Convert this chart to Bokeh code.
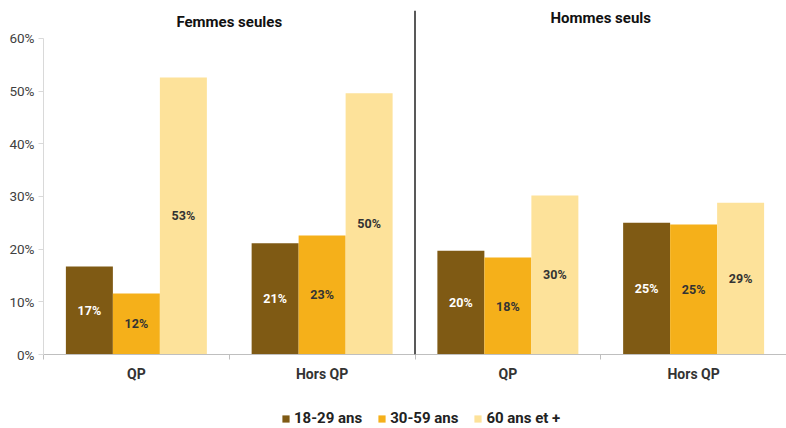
from bokeh.plotting import figure
from bokeh.layouts import column
from bokeh.models import (ColumnDataSource, Range1d, LinearAxis, FixedTicker,
                          Span, Label, Legend, LegendItem)
from bokeh.transform import dodge
from bokeh.core.properties import value
from bokeh.embed import file_html
from bokeh.resources import INLINE

groups = ["F_QP", "F_HQP", "H_QP", "H_HQP"]
group_labels = ["QP", "Hors QP", "QP", "Hors QP"]
panel_titles = ["Femmes seules", "Hommes seuls"]
ages = ["18-29 ans", "30-59 ans", "60 ans et +"]
age_18_29 = [16.7, 21.1, 19.7, 25.0]
age_30_59 = [11.6, 22.6, 18.4, 24.7]
age_60p = [52.6, 49.6, 30.2, 28.8]
y_ticks = [0, 10, 20, 30, 40, 50, 60]

colors = ["#7F5A14", "#F5B01A", "#FDE29A"]
label_colors = ["#FFFFFF", "#333333", "#333333"]
series = [age_18_29, age_30_59, age_60p]
FONT = "Roboto"

n = len(groups)
p = figure(frame_width=743, frame_height=344, x_range=Range1d(0, n),
           y_range=Range1d(0, 65.3), output_backend="svg", toolbar_location=None,
           x_axis_location=None, min_border_left=43, min_border_right=0,
           min_border_top=10, min_border_bottom=0)
p.outline_line_color = None
p.grid.grid_line_color = None
p.background_fill_color = "white"

centers = [i + 0.5 for i in range(n)]
src_data = {"x": centers}
for i, s in enumerate(series):
    src_data[f"v{i}"] = s
    src_data[f"m{i}"] = [v / 2 for v in s]
    src_data[f"t{i}"] = [f"{round(v):d}%" for v in s]
src = ColumnDataSource(src_data)

bw = 0.253
offsets = [-bw, 0, bw]
for i in range(3):
    p.vbar(x=dodge("x", offsets[i]), top=f"v{i}", width=bw, source=src,
           fill_color=colors[i], line_color=None)
    p.text(x=dodge("x", offsets[i]), y=f"m{i}", text=f"t{i}", source=src,
           text_align="center", text_baseline="middle", text_font_size="12.5px",
           text_font_style="bold", text_color=label_colors[i], text_font=value(FONT))

# y axis
ya = p.yaxis[0]
ya.ticker = FixedTicker(ticks=y_ticks)
ya.major_label_overrides = {t: f"{t}%" for t in y_ticks}
ya.axis_line_color = "#D9D9D9"
ya.major_tick_line_color = "#D9D9D9"
ya.major_tick_out = 5
ya.major_tick_in = 0
ya.minor_tick_line_color = None
ya.major_label_text_font = FONT
ya.major_label_text_font_size = "13.5px"
ya.major_label_text_color = "#404040"
ya.major_label_standoff = 4
ya.bounds = (0, 60)

# x axis with boundary ticks
xa = LinearAxis(ticker=FixedTicker(ticks=centers, minor_ticks=list(range(n + 1))))
xa.major_label_overrides = {c: lab for c, lab in zip(centers, group_labels)}
xa.axis_line_color = "#BFBFBF"
xa.major_tick_line_color = None
xa.minor_tick_line_color = "#BFBFBF"
xa.minor_tick_out = 5
xa.minor_tick_in = 0
xa.major_label_text_font = FONT
xa.major_label_text_font_size = "14px"
xa.major_label_text_font_style = "bold"
xa.major_label_text_color = "#333333"
xa.major_label_standoff = 5
p.add_layout(xa, "below")

# divider between the two panels
p.add_layout(Span(location=n / 2, dimension="height",
                  line_color="#222222", line_width=1.5))

# panel titles
for k, t in enumerate(panel_titles):
    p.add_layout(Label(x=n / 4 + k * n / 2, y=63.1 + 0.7 * k, text=t,
                       text_align="center", text_baseline="middle", text_font=FONT,
                       text_font_size="15px", text_font_style="bold", text_color="#111111"))

# legend strip below the chart (zero-height swatch renderers only feed the legend)
lf = figure(width=786, height=44, x_range=Range1d(0, 1), y_range=Range1d(0, 1),
            output_backend="svg", toolbar_location=None, x_axis_location=None,
            y_axis_location=None, min_border=0)
lf.outline_line_color = None
lf.grid.grid_line_color = None
swatches = [lf.vbar(x=[0.5], top=[0], bottom=[0], width=0.01, fill_color=c, line_color=None)
            for c in colors]
legend = Legend(items=[LegendItem(label=a, renderers=[r]) for a, r in zip(ages, swatches)],
                orientation="horizontal", location=(238, 1), border_line_color=None,
                background_fill_alpha=0,
                label_text_font=FONT, label_text_font_size="15px", label_text_font_style="bold",
                label_text_color="#222222", glyph_width=9, glyph_height=9, spacing=15,
                label_standoff=4, padding=0, margin=0)
lf.add_layout(legend, "center")

open("out.html", "w").write(file_html(column(p, lf, spacing=0), INLINE))
